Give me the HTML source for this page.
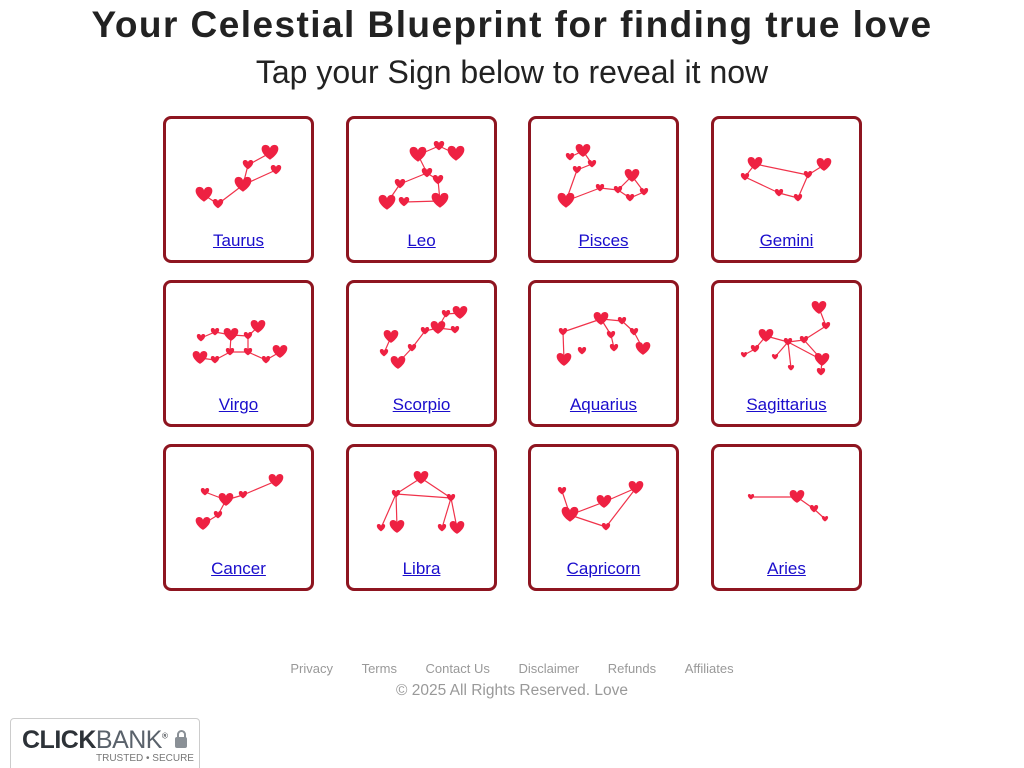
<!DOCTYPE html>
<html><head><meta charset="utf-8"><style>
html,body{margin:0;width:1024px;height:768px;overflow:hidden}
body{background:#fff;font-family:"Liberation Sans",sans-serif;position:relative}
h1{position:absolute;top:4px;left:0;width:1024px;margin:0;text-align:center;font-size:37px;font-weight:bold;color:#222;letter-spacing:1.45px;white-space:nowrap}
h2{position:absolute;top:54px;left:0;width:1024px;margin:0;text-align:center;font-size:32px;font-weight:normal;color:#222}
.card{position:absolute;width:145px;height:141px;border:3px solid #8e1520;border-radius:8px;box-sizing:content-box}
.card a{position:absolute;left:0;right:0;top:112px;text-align:center;color:#1a0dcc;text-decoration:underline;font-size:17px}
svg.c{position:absolute;left:0;top:0}
.foot{position:absolute;top:661px;left:0;width:1024px;text-align:center;font-size:13px;color:#999}
.foot span{margin:0 14.3px}
.copy{position:absolute;top:682px;left:0;width:1024px;text-align:center;font-size:15.5px;color:#999}
.cb{position:absolute;left:10px;top:718px;width:188px;height:60px;border:1px solid #ccc;border-radius:4px}
</style></head><body>
<h1>Your Celestial Blueprint for finding true love</h1>
<h2>Tap your Sign below to reveal it now</h2>
<div class="card" style="left:163px;top:116px"><a>Taurus</a></div>
<div class="card" style="left:346px;top:116px"><a>Leo</a></div>
<div class="card" style="left:528px;top:116px"><a>Pisces</a></div>
<div class="card" style="left:711px;top:116px"><a>Gemini</a></div>
<div class="card" style="left:163px;top:280px"><a>Virgo</a></div>
<div class="card" style="left:346px;top:280px"><a>Scorpio</a></div>
<div class="card" style="left:528px;top:280px"><a>Aquarius</a></div>
<div class="card" style="left:711px;top:280px"><a>Sagittarius</a></div>
<div class="card" style="left:163px;top:444px"><a>Cancer</a></div>
<div class="card" style="left:346px;top:444px"><a>Libra</a></div>
<div class="card" style="left:528px;top:444px"><a>Capricorn</a></div>
<div class="card" style="left:711px;top:444px"><a>Aries</a></div>
<svg class="c" width="1024" height="768" id="s"></svg>
<div class="foot"><span>Privacy</span><span>Terms</span><span>Contact Us</span><span>Disclaimer</span><span>Refunds</span><span>Affiliates</span></div>
<div class="copy">© 2025 All Rights Reserved. Love</div>
<div class="cb">
<div style="position:absolute;left:11px;top:7px;font-size:25px;color:#2d3238;letter-spacing:-0.5px;white-space:nowrap"><b>CLICK</b><span style="color:#5a626b">BANK</span><sup style="font-size:8px">®</sup></div>
<div style="position:absolute;left:164px;top:18px;width:12px;height:11px;background:#8a9096;border-radius:2px"></div>
<div style="position:absolute;left:166px;top:11px;width:5px;height:8px;border:2px solid #8a9096;border-bottom:none;border-radius:5px 5px 0 0"></div>
<div style="position:absolute;left:85px;top:34px;font-size:10px;color:#777;white-space:nowrap">TRUSTED • SECURE</div>
</div>
<script>
var S=[
[[[204,195,8],[218,204,5],[243,185,8],[248,165,5],[270,153,8],[276,170,5]],[[0,1],[1,2],[2,5],[2,3],[3,4]]],
[[[418,155,8],[439,146,5],[456,154,8],[427,173,5],[438,180,5],[400,184,5],[387,203,8],[404,202,5],[440,201,8]],[[0,1],[1,2],[0,3],[3,5],[5,6],[3,4],[4,8],[7,8]]],
[[[583,151,7],[570,157,4],[592,164,4],[577,170,4],[566,201,8],[600,188,4],[618,190,4],[632,176,7],[644,192,4],[630,198,4]],[[1,0],[0,2],[2,3],[3,4],[4,5],[5,6],[6,7],[7,8],[8,9],[9,6]]],
[[[755,164,7],[745,177,4],[779,193,4],[798,198,4],[808,175,4],[824,165,7]],[[0,4],[4,5],[1,2],[2,3],[3,4],[0,1]]],
[[[201,338,4],[215,332,4],[231,335,7],[248,336,4],[258,327,7],[200,358,7],[215,360,4],[230,352,4],[248,352,4],[266,360,4],[280,352,7]],[[0,1],[1,2],[2,3],[3,4],[2,7],[5,6],[6,7],[7,8],[8,9],[9,10],[3,8]]],
[[[391,337,7],[384,353,4],[398,363,7],[412,348,4],[425,331,4],[438,328,7],[446,314,4],[460,313,7],[455,330,4]],[[2,3],[3,4],[4,5],[5,6],[6,7],[5,8],[0,1]]],
[[[563,332,4],[601,319,7],[622,321,4],[634,332,4],[643,349,7],[611,335,4],[614,348,4],[582,351,4],[564,360,7]],[[0,1],[1,2],[2,3],[3,4],[1,5],[5,6],[0,8]]],
[[[819,308,7],[826,326,4],[766,336,7],[755,349,4],[744,355,3],[775,357,3],[788,342,4],[804,340,4],[822,360,7],[821,372,4],[791,368,3]],[[0,1],[1,7],[2,6],[6,7],[7,8],[8,9],[6,10],[3,4],[2,3],[6,5],[6,8]]],
[[[205,492,4],[226,500,7],[243,495,4],[276,481,7],[218,515,4],[203,524,7]],[[0,1],[1,2],[2,3],[1,4],[4,5]]],
[[[421,478,7],[396,494,4],[451,498,4],[381,528,4],[397,527,7],[442,528,4],[457,528,7]],[[0,1],[0,2],[1,2],[1,3],[1,4],[2,5],[2,6]]],
[[[562,491,4],[570,515,8],[604,502,7],[636,488,7],[606,527,4]],[[0,1],[1,2],[2,3],[3,4],[4,1]]],
[[[751,497,3],[797,497,7],[814,509,4],[825,519,3]],[[0,1],[1,2],[2,3]]]];
var h='';
S.forEach(function(c){var p=c[0];c[1].forEach(function(l){var a=p[l[0]],b=p[l[1]];h+='<line x1="'+a[0]+'" y1="'+a[1]+'" x2="'+b[0]+'" y2="'+b[1]+'" stroke="#f0324a" stroke-width="1.2"/>';});
p.forEach(function(q){var r=q[2]*1.12,x=q[0],y=q[1];h+='<path transform="translate('+x+','+y+') scale('+r+')" d="M0,0.75 C-1.2,0 -1.1,-0.9 -0.5,-0.9 C-0.2,-0.9 0,-0.65 0,-0.5 C0,-0.65 0.2,-0.9 0.5,-0.9 C1.1,-0.9 1.2,0 0,0.75Z" fill="#ee2142"/>';});});
document.getElementById('s').innerHTML=h;
</script>
</body></html>
